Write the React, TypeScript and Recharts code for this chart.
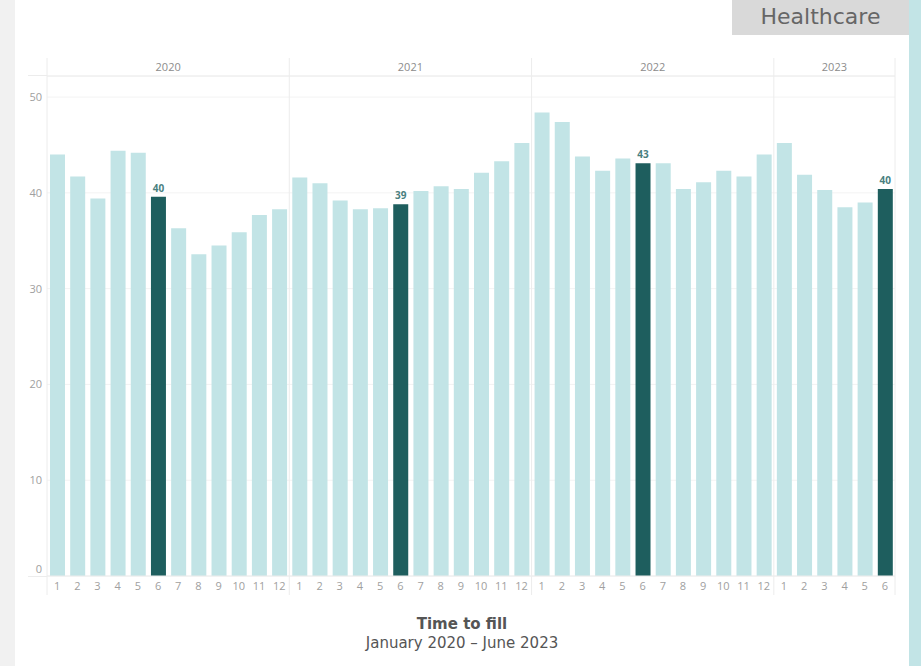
import { BarChart, Bar, XAxis, YAxis, CartesianGrid, Cell, LabelList } from "recharts";

const years = [2020, 2021, 2022, 2023];
const monthsPerYear = [12, 12, 12, 6];
const fillDays = [
  [44.0, 41.7, 39.4, 44.4, 44.2, 39.6, 36.3, 33.6, 34.5, 35.9, 37.7, 38.3],
  [41.6, 41.0, 39.2, 38.3, 38.4, 38.8, 40.2, 40.7, 40.4, 42.1, 43.3, 45.2],
  [48.4, 47.4, 43.8, 42.3, 43.6, 43.1, 43.1, 40.4, 41.1, 42.3, 41.7, 44.0],
  [45.2, 41.9, 40.3, 38.5, 39.0, 40.4],
];
const highlightMonth = 6;
const yTicks = [0, 10, 20, 30, 40, 50];

const data = years.flatMap((year, yi) =>
  fillDays[yi].slice(0, monthsPerYear[yi]).map((value, mi) => ({
    key: `${year}-${mi + 1}`,
    year,
    month: mi + 1,
    value,
  }))
);

const W = 921;
const H = 666;
const M = { top: 58, right: 26, bottom: 71, left: 17 };
const Y_AXIS_W = 30;
const TOP_AXIS_H = 18;
const BOTTOM_AXIS_H = 19;
const PLOT_LEFT = M.left + Y_AXIS_W;
const PLOT_W = W - M.right - PLOT_LEFT;
const PLOT_BOTTOM = H - M.bottom - BOTTOM_AXIS_H;
const BAND = PLOT_W / data.length;

const LIGHT = "#c2e4e6";
const DARK = "#1e5e5e";
const GRID = "#ececec";
const FONT = "'Open Sans', sans-serif";
const TITLE_FONT = "'DejaVu Sans', sans-serif";

function MonthTick(props: any) {
  const { x, payload, index } = props;
  const d = data[index];
  const lineTop = M.top;
  const lineBottom = PLOT_BOTTOM + BOTTOM_AXIS_H;
  return (
    <g>
      {d.month === 1 && (
        <line x1={x - BAND / 2} x2={x - BAND / 2} y1={lineTop} y2={lineBottom} stroke={GRID} />
      )}
      {index === data.length - 1 && (
        <line x1={x + BAND / 2} x2={x + BAND / 2} y1={lineTop} y2={lineBottom} stroke={GRID} />
      )}
      <text x={x} y={PLOT_BOTTOM + 14} textAnchor="middle" fontSize={11} fill="#a0a0a0" fontFamily={FONT}>
        {d ? d.month : payload.value}
      </text>
    </g>
  );
}

function YearTick(props: any) {
  const { x, index } = props;
  const d = data[index];
  if (!d || d.month !== 1) return <g />;
  const count = monthsPerYear[years.indexOf(d.year)];
  return (
    <text
      x={x + ((count - 1) / 2) * BAND}
      y={M.top + 13}
      textAnchor="middle"
      fontSize={11}
      fill="#8c8c8c"
      fontFamily={FONT}
    >
      {d.year}
    </text>
  );
}

function ValueTick(props: any) {
  const { y, payload } = props;
  return (
    <text
      x={PLOT_LEFT - 5}
      y={y + (payload.value === 0 ? -7 : 0)}
      dy={4}
      textAnchor="end"
      fontSize={11}
      fill="#a0a0a0"
      fontFamily={FONT}
    >
      {payload.value}
    </text>
  );
}

function ValueLabel(props: any) {
  const { x, y, width, index } = props;
  const d = data[index];
  if (!d || d.month !== highlightMonth) return null;
  return (
    <text x={x + width / 2} y={y - 5} textAnchor="middle" fontSize={10} fontWeight={700} fill="#4a7f7f" fontFamily={FONT}>
      {Math.round(d.value)}
    </text>
  );
}

export default function App() {
  return (
    <div style={{ position: "absolute", left: 0, top: 0, width: W, height: H, background: "#ffffff", overflow: "hidden", fontFamily: FONT }}>
      <div style={{ position: "absolute", left: 0, top: 0, width: 15, height: H, background: "#f1f1f1" }} />
      <div style={{ position: "absolute", left: 909, top: 0, width: W - 909, height: H, background: LIGHT }} />
      <div
        style={{
          position: "absolute",
          left: 732,
          top: 0,
          width: 177,
          height: 35,
          background: "#d9d9d9",
          color: "#666",
          fontSize: 22,
          lineHeight: "33px",
          textAlign: "center",
          fontFamily: TITLE_FONT,
        }}
      >
        Healthcare
      </div>
      <div style={{ position: "absolute", left: 28, top: M.top + TOP_AXIS_H - 1, width: PLOT_LEFT - 28, height: 1, background: GRID }} />
      <div style={{ position: "absolute", left: 28, top: PLOT_BOTTOM, width: PLOT_LEFT - 28, height: 1, background: GRID }} />

      <div style={{ position: "absolute", left: 0, top: 0 }}>
        <BarChart width={W} height={H} data={data} margin={M} barSize={15}>
          <CartesianGrid horizontal vertical={false} stroke="#f3f3f3" />
          <XAxis
            xAxisId="year"
            orientation="top"
            dataKey="key"
            height={TOP_AXIS_H}
            interval={0}
            tickLine={false}
            axisLine={{ stroke: GRID }}
            tick={<YearTick />}
          />
          <XAxis
            dataKey="key"
            height={BOTTOM_AXIS_H}
            interval={0}
            tickLine={false}
            axisLine={{ stroke: GRID }}
            tick={<MonthTick />}
          />
          <YAxis
            width={Y_AXIS_W}
            domain={[0, 52.2]}
            ticks={yTicks}
            allowDataOverflow
            tickLine={false}
            axisLine={false}
            tick={<ValueTick />}
          />
          <Bar dataKey="value" isAnimationActive={false}>
            {data.map((d) => (
              <Cell key={d.key} fill={d.month === highlightMonth ? DARK : LIGHT} />
            ))}
            <LabelList dataKey="value" content={<ValueLabel />} />
          </Bar>
        </BarChart>
      </div>

      <div style={{ position: "absolute", left: 15, width: 894, top: 614, textAlign: "center", color: "#555", fontFamily: TITLE_FONT }}>
        <div style={{ fontSize: 15, fontWeight: 700, lineHeight: "20px" }}>Time to fill</div>
        <div style={{ fontSize: 15, lineHeight: "19px" }}>January 2020 – June 2023</div>
      </div>
    </div>
  );
}
